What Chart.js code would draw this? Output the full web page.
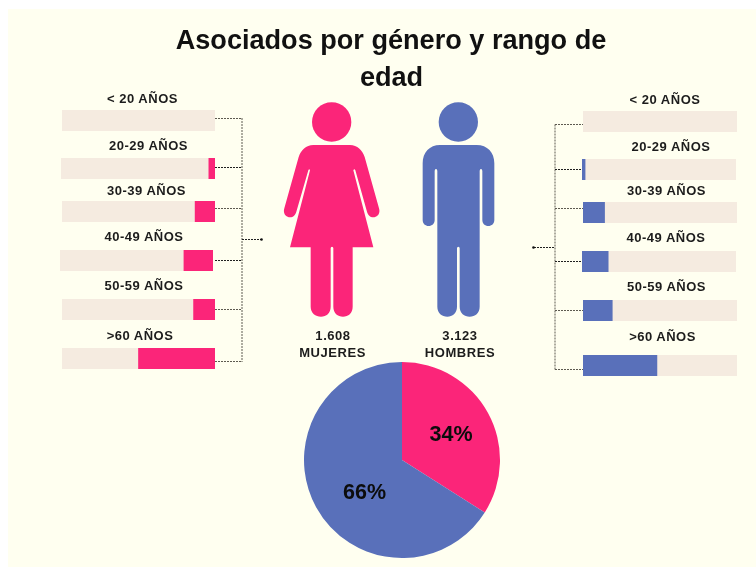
<!DOCTYPE html>
<html lang="es">
<head>
<meta charset="utf-8">
<title>Asociados por género y rango de edad</title>
<script src="https://cdn.jsdelivr.net/npm/chart.js@4/dist/chart.umd.min.js"></script>
<style>
html,body{margin:0;padding:0;background:#fff;width:756px;height:567px;overflow:hidden}
#panel{position:absolute;left:8px;top:9px;width:748px;height:558px;background:#FFFFF0}
#stage{position:absolute;left:0;top:0;width:756px;height:567px;filter:blur(.45px)}
canvas{position:absolute;display:block}
svg{position:absolute;left:0;top:0}
.t{position:absolute;transform:translate(-50%,-50%);white-space:nowrap;font-family:"Liberation Sans",Arial,sans-serif;font-weight:700;color:#1c1c1c}
.age{font-size:13px;letter-spacing:.5px}
.cnt{font-size:13px;letter-spacing:.55px}
.ttl{font-size:27.1px;color:#111}
</style>
</head>
<body>
<div id="panel"></div>
<div id="stage">
<svg id="lines" width="756" height="567"></svg>
<svg width="756" height="567">
<g transform="translate(270 95) scale(.33333)">
<circle cx="185" cy="81" r="59" fill="#FB2579"/>
<path fill="#FB2579" d="M130,150 H240 C262,150 277,165 284,186 L327,340 C332,356 322,367 310,367 C300,367 294,360 291,350 L256,226 Q253,220 250,226 L310,457 H248 V635 C248,655 235,665 219,665 C203,665 190,655 190,635 V460 Q190,455 186,455 Q182,455 182,460 V635 C182,655 169,665 153,665 C137,665 122,655 122,635 V457 H60 L120,226 Q118,220 115,226 L79,350 C76,360 70,367 60,367 C48,367 38,356 43,340 L86,186 C93,165 108,150 130,150 Z"/>
<circle cx="565" cy="81" r="59" fill="#5970BA"/>
<path fill="#5970BA" d="M510,150 H620 C652,150 673,172 673,205 V375 C673,386 665,393 655,393 C645,393 637,386 637,375 V228 Q637,222 633,222 Q629,222 629,228 V635 C629,655 615,665 599,665 C583,665 569,655 569,635 V460 Q569,455 565,455 Q561,455 561,460 V635 C561,655 547,665 532,665 C516,665 502,655 502,635 V228 Q502,222 498,222 Q494,222 494,228 V375 C494,386 486,393 476,393 C466,393 458,386 458,375 V205 C458,172 479,150 510,150 Z"/>
</g>
</svg>
</div>
<script>
// ---- data ----
const titleLines = ["Asociados por género y rango de", "edad"];
const ageLabels = ["< 20 AÑOS", "20-29 AÑOS", "30-39 AÑOS", "40-49 AÑOS", "50-59 AÑOS", ">60 AÑOS"];
const womenShare = [0, 4, 13, 19, 14, 50];
const menShare = [0, 2, 14, 17, 19, 48];
const genderLabels = ["MUJERES", "HOMBRES"];
const genderCounts = ["1.608", "3.123"];
const genderShare = [34, 66];

// ---- style and layout ----
const PINK = "#FB2579", BLUE = "#5970BA", TRACK = "#F5EBE0";
const stage = document.getElementById("stage");
const leftBoxes  = [[61.7,110,153,21],[61,158,153.7,21],[61.7,201,153,21],[60,250,153.3,21],[61.7,299,153,21],[61.7,348,153,21]];
const rightBoxes = [[583.3,111,154,21],[582.3,158.5,154.4,21],[583.3,201.5,154,21],[581.7,250.5,153.6,21],[583.3,300,154,21],[583.3,355,154,21]];
const leftText  = [[142.5,97.5],[148.5,144.5],[146.5,189.5],[144,235.5],[144,284.5],[140,334.5]];
const rightText = [[665,98.5],[671,145.5],[666.5,189.5],[666,236.5],[666.5,285.5],[662.5,335.5]];

function addText(cls, str, x, y) {
  const d = document.createElement("div");
  d.className = "t " + cls;
  d.textContent = str;
  d.style.left = x + "px";
  d.style.top = y + "px";
  stage.appendChild(d);
}
function addCanvas(x, y, w, h) {
  const c = document.createElement("canvas");
  c.width = Math.round(w); c.height = Math.round(h);
  c.style.left = Math.round(x) + "px"; c.style.top = Math.round(y) + "px";
  c.style.width = Math.round(w) + "px"; c.style.height = Math.round(h) + "px";
  stage.appendChild(c);
  return c;
}
function rowBar(box, label, value, color, reversed) {
  new Chart(addCanvas(...box), {
    type: "bar",
    data: {
      labels: [label],
      datasets: [
        { data: [value || null], backgroundColor: color, borderWidth: 0, barPercentage: 1, categoryPercentage: 1 },
        { data: [100 - value], backgroundColor: TRACK, borderWidth: 0, barPercentage: 1, categoryPercentage: 1 }
      ]
    },
    options: {
      indexAxis: "y", responsive: false, animation: false, devicePixelRatio: 1,
      layout: { padding: 0 },
      plugins: { legend: { display: false }, tooltip: { enabled: false } },
      scales: {
        x: { display: false, stacked: true, min: 0, max: 100, reverse: reversed },
        y: { display: false, stacked: true }
      }
    }
  });
}
ageLabels.forEach((label, i) => {
  rowBar(leftBoxes[i], label, womenShare[i], PINK, true);
  rowBar(rightBoxes[i], label, menShare[i], BLUE, false);
  addText("age", label, leftText[i][0], leftText[i][1]);
  addText("age", label, rightText[i][0], rightText[i][1]);
});

// connector brackets
const lines = document.getElementById("lines");
function seg(x1, y1, x2, y2, color) {
  const l = document.createElementNS("http://www.w3.org/2000/svg", "line");
  l.setAttribute("x1", x1); l.setAttribute("y1", y1);
  l.setAttribute("x2", x2); l.setAttribute("y2", y2);
  l.setAttribute("stroke", color); l.setAttribute("stroke-width", "1");
  l.setAttribute("stroke-dasharray", "2 1");
  lines.appendChild(l);
}
function dot(x, y) {
  const c = document.createElementNS("http://www.w3.org/2000/svg", "circle");
  c.setAttribute("cx", x); c.setAttribute("cy", y); c.setAttribute("r", "1.3"); c.setAttribute("fill", "#111");
  lines.appendChild(c);
}
const GREY = "#5d5a50", DARK = "#1f1f1f";
seg(242, 118, 242, 362, GREY);
[[118.5,GREY],[167.5,DARK],[208.5,GREY],[260.5,DARK],[309.5,GREY],[361.5,GREY]].forEach(([y,c]) => seg(215, y, 242, y, c));
seg(242, 239.5, 261, 239.5, DARK); dot(261.5, 239.5);
seg(555, 124.5, 555, 370, GREY);
[[124.5,GREY],[169.5,DARK],[208.5,GREY],[261.5,DARK],[310.5,GREY],[369.5,GREY]].forEach(([y,c]) => seg(555, y, 583, y, c));
seg(534, 247.5, 555, 247.5, DARK); dot(533.5, 247.5);

// titles and counts
addText("ttl", titleLines[0], 391, 40);
addText("ttl", titleLines[1], 391.5, 77);
addText("cnt", genderCounts[0], 333, 334.5);
addText("cnt", genderLabels[0], 332.5, 352);
addText("cnt", genderCounts[1], 460, 334.5);
addText("cnt", genderLabels[1], 460, 352);

// pie with percentage labels
const labelOffsets = [[49, -24.5], [-37.5, 33.5]];
const pieLabels = {
  id: "pieLabels",
  afterDatasetsDraw(chart) {
    const { ctx } = chart;
    const arcs = chart.getDatasetMeta(0).data;
    ctx.save();
    ctx.font = 'bold 21.5px "Liberation Sans", Arial, sans-serif';
    ctx.fillStyle = "#0c0c0c";
    ctx.textAlign = "center";
    ctx.textBaseline = "middle";
    arcs.forEach((arc, i) => {
      ctx.fillText(genderShare[i] + "%", arc.x + labelOffsets[i][0], arc.y + labelOffsets[i][1]);
    });
    ctx.restore();
  }
};
new Chart(addCanvas(302, 360, 200, 200), {
  type: "pie",
  data: {
    labels: genderLabels,
    datasets: [{ data: genderShare, backgroundColor: [PINK, BLUE], borderWidth: 0 }]
  },
  options: {
    responsive: false, animation: false, devicePixelRatio: 1,
    layout: { padding: 2 },
    plugins: { legend: { display: false }, tooltip: { enabled: false } }
  },
  plugins: [pieLabels]
});
</script>
</body>
</html>
